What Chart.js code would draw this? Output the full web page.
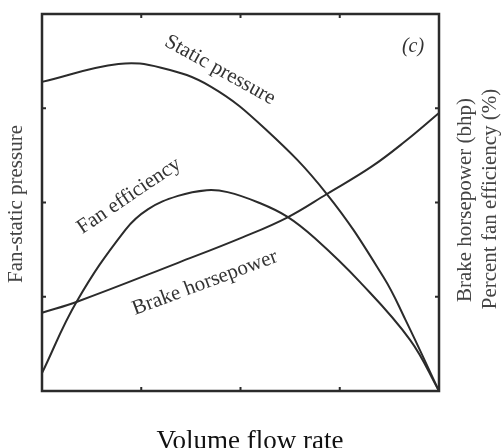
<!DOCTYPE html>
<html>
<head>
<meta charset="utf-8">
<script src="https://cdn.jsdelivr.net/npm/chart.js@4/dist/chart.umd.min.js"></script>
<style>
    body { margin: 0; background: #fff; }
    #wrap { width: 502px; height: 448px; }
</style>
</head>
<body>
<div id="wrap"><canvas id="fanChart" width="502" height="448"></canvas></div>
<script>
// values (flow rate and curve heights in plot units 0..4)
const pressureFlow = [0, 0.77, 1.2, 1.7, 2.25, 2.87, 3.44, 3.66, 4];
const pressureValues = [3.28, 3.47, 3.43, 3.23, 2.78, 2.09, 1.21, 0.76, 0];

const efficiencyFlow = [0, 0.35, 0.84, 1.07, 1.37, 1.66, 1.87, 2.18, 2.47, 2.75, 3.2, 3.71, 4];
const efficiencyValues = [0.19, 0.95, 1.71, 1.93, 2.07, 2.13, 2.11, 2.0, 1.85, 1.62, 1.16, 0.54, 0];

const bhpFlow = [0, 0.36, 1.37, 2.02, 2.47, 2.87, 3.32, 3.66, 4];
const bhpValues = [0.83, 0.95, 1.36, 1.63, 1.84, 2.09, 2.38, 2.65, 2.95];

const tickValues = [1, 2, 3];

const ink = '#2b2b2b';

function toPoints(xs, ys) {
    return xs.map((x, i) => ({ x: x, y: ys[i] }));
}

function curve(label, xs, ys) {
    return {
        label: label,
        data: toPoints(xs, ys),
        showLine: true,
        borderColor: ink,
        borderWidth: 2,
        pointRadius: 0,
        tension: 0.4,
        clip: false
    };
}

// box, inner ticks and all the lettering
const decorations = {
    id: 'decorations',
    afterDraw(chart) {
        const ctx = chart.ctx;
        const area = chart.chartArea;
        const xs = chart.scales.x;
        const ys = chart.scales.y;
        ctx.save();

        ctx.strokeStyle = ink;
        ctx.lineWidth = 2.5;
        ctx.strokeRect(area.left, area.top, area.right - area.left, area.bottom - area.top);

        ctx.lineWidth = 2;
        tickValues.forEach(v => {
            const px = xs.getPixelForValue(v);
            const py = ys.getPixelForValue(v);
            ctx.beginPath();
            ctx.moveTo(px, area.bottom); ctx.lineTo(px, area.bottom - 4);
            ctx.moveTo(px, area.top); ctx.lineTo(px, area.top + 4);
            ctx.moveTo(area.left, py); ctx.lineTo(area.left + 4, py);
            ctx.moveTo(area.right, py); ctx.lineTo(area.right - 4, py);
            ctx.stroke();
        });

        function label(text, x, y, angle, font, color) {
            ctx.save();
            ctx.translate(x, y);
            ctx.rotate(angle * Math.PI / 180);
            ctx.font = font;
            ctx.fillStyle = color || '#333';
            ctx.textAlign = 'center';
            ctx.textBaseline = 'middle';
            ctx.fillText(text, 0, 0);
            ctx.restore();
        }

        const serif = '"Liberation Serif", "DejaVu Serif", serif';
        label('Static pressure', 220, 70, 29, '21px ' + serif);
        label('Fan efficiency', 129, 196, -34, '21px ' + serif);
        label('Brake horsepower', 205, 283, -20.5, '21px ' + serif);
        label('(c)', 413, 47, 0, 'italic 20px ' + serif);

        label('Fan-static pressure', 16, 204, -90, '21px ' + serif, '#444');
        label('Brake horsepower (bhp)', 465, 200, -90, '21px ' + serif, '#444');
        label('Percent fan efficiency (%)', 490, 199, -90, '21px ' + serif, '#444');

        ctx.font = '27px ' + serif;
        ctx.fillStyle = '#111';
        ctx.textAlign = 'center';
        ctx.textBaseline = 'alphabetic';
        ctx.fillText('Volume flow rate', 250, 449);

        ctx.restore();
    }
};

const fanCtx = document.getElementById('fanChart').getContext('2d');

new Chart(fanCtx, {
    type: 'scatter',
    data: {
        datasets: [
            curve('Static pressure', pressureFlow, pressureValues),
            curve('Fan efficiency', efficiencyFlow, efficiencyValues),
            curve('Brake horsepower', bhpFlow, bhpValues)
        ]
    },
    options: {
        responsive: false,
        animation: false,
        layout: {
            padding: { left: 42, right: 63, top: 14, bottom: 57 }
        },
        scales: {
            x: { type: 'linear', min: 0, max: 4, display: false },
            y: { type: 'linear', min: 0, max: 4, display: false }
        },
        plugins: {
            legend: { display: false },
            tooltip: { enabled: false }
        }
    },
    plugins: [decorations]
});
</script>
</body>
</html>
